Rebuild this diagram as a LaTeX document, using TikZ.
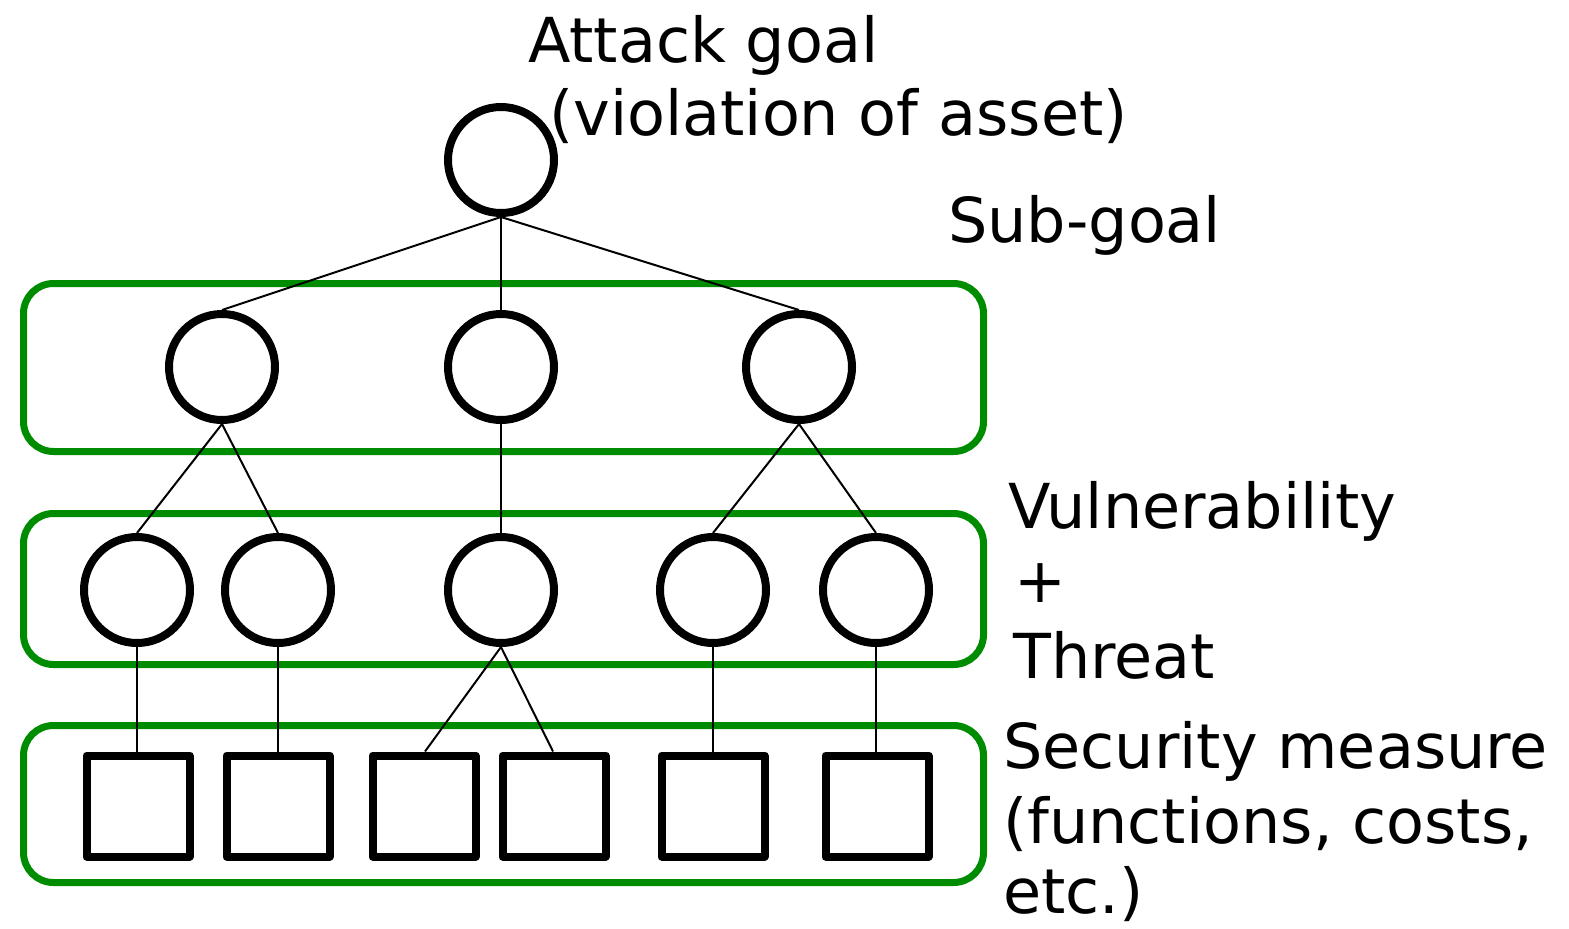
\documentclass[tikz,border=0pt]{standalone}
\usepackage{fontspec}
\setmainfont{DejaVu Sans}
\definecolor{boxgreen}{RGB}{0,140,0}
\begin{document}
\begin{tikzpicture}[x=1pt,y=-1pt,
  goal/.style={circle,draw,line width=8pt,minimum size=106pt,inner sep=0pt},
  measure/.style={rectangle,draw,line width=8pt,minimum width=103pt,minimum height=101pt,inner sep=0pt,line join=round},
  group/.style={draw=boxgreen,line width=7pt,rounded corners=30pt},
  link/.style={line width=2pt},
  lbl/.style={anchor=base west,inner sep=0pt,font=\fontsize{62}{74}\selectfont}]
\useasboundingbox (0,0) rectangle (1569,929);
% group frames
\draw[group] (23.5,283.5) rectangle (983.5,451.5);
\draw[group] (23.5,513.5) rectangle (983.5,664.5);
\draw[group] (23.5,725.5) rectangle (983.5,882.5);
% nodes
\node[goal] (top) at (501,160) {};
\node[goal] (s1) at (222,367) {};
\node[goal] (s2) at (501,367) {};
\node[goal] (s3) at (799,367) {};
\node[goal] (v1) at (137,590) {};
\node[goal] (v2) at (278,590) {};
\node[goal] (v3) at (501,590) {};
\node[goal] (v4) at (713,590) {};
\node[goal] (v5) at (876,590) {};
\node[measure] (m1) at (138,806) {};
\node[measure] (m2) at (278,806) {};
\node[measure] (m3) at (424,806) {};
\node[measure] (m4) at (554,806) {};
\node[measure] (m5) at (713,806) {};
\node[measure] (m6) at (877,806) {};
% links
\draw[link] (top.south) -- (s1.north);
\draw[link] (top.south) -- (s2.north);
\draw[link] (top.south) -- (s3.north);
\draw[link] (s1.south) -- (v1.north);
\draw[link] (s1.south) -- (v2.north);
\draw[link] (s2.south) -- (v3.north);
\draw[link] (s3.south) -- (v4.north);
\draw[link] (s3.south) -- (v5.north);
\draw[link] (v1.south) -- (v1.south |- m1.north);
\draw[link] (v2.south) -- (v2.south |- m2.north);
\draw[link] (v3.south) -- ([xshift=1pt]m3.north);
\draw[link] (v3.south) -- ([xshift=-1pt]m4.north);
\draw[link] (v4.south) -- (v4.south |- m5.north);
\draw[link] (v5.south) -- (v5.south |- m6.north);
% labels
\node[lbl] (tA) at (528,62) {Attack goal};
\node[lbl] (tB) at (549,135) {(violation of asset)};
\node[lbl] (tC) at (948,242) {Sub-goal};
\node[lbl] (tD) at (1008,528) {Vulnerability};
\node[lbl] (tE) at (1014,602) {+};
\node[lbl] (tF) at (1013,678) {Threat};
\node[lbl] (tG) at (1003,768) {Security measure};
\node[lbl] (tH) at (1003,843) {(functions, costs,};
\node[lbl] (tI) at (1003,913) {etc.)};
\end{tikzpicture}
\end{document}
